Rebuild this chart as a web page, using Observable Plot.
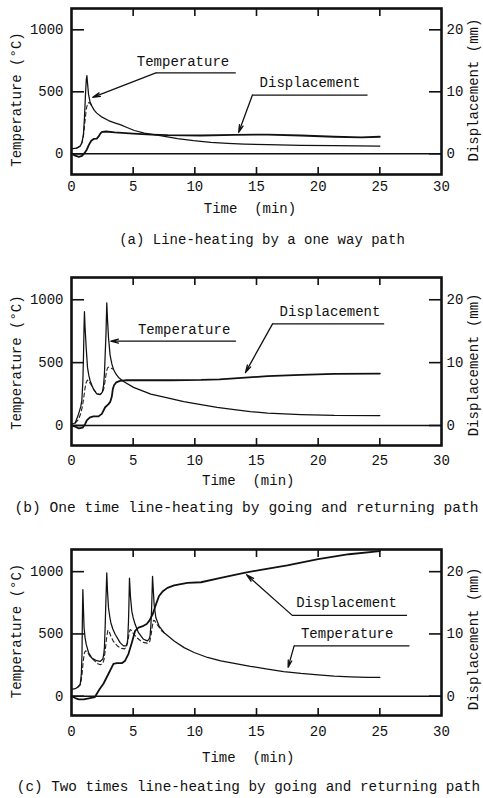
<!DOCTYPE html>
<html><head><meta charset="utf-8">
<script src="https://cdn.jsdelivr.net/npm/d3@7"></script>
<script src="https://cdn.jsdelivr.net/npm/@observablehq/plot@0.6"></script>
<style>
body{margin:0;background:#fff;}
#wrap{position:relative;width:483px;height:798px;overflow:hidden;font-family:'Liberation Mono',monospace;color:#111;}
.panel{position:absolute;left:0;}
.cap{position:absolute;white-space:pre;line-height:1;transform:translate(-50%,-50%);color:#111;}
</style></head><body><div id="wrap"></div>
<script>
// ---- shared axis values ----
const timeTicks = [0, 5, 10, 15, 20, 25, 30];
const innerTimeTicks = [5, 10, 15, 20, 25];
const tempTicks = [0, 500, 1000];
const dispTicks = [0, 10, 20];
const MM_TO_C = 50; // right axis: 20 mm aligns with 1000 °C

// ---- (a) one way path : [time (min), value] ----
const aTemp = [[0,40],[0.4,45],[0.7,62],[0.85,90],[0.97,160],[1.05,290],[1.13,470],[1.2,600],[1.25,630],[1.3,570],[1.38,480],[1.5,420],[1.65,385],[1.85,350],[2.05,328],[2.4,300],[3.0,268],[3.5,250],[4.0,233],[4.5,212],[5.1,188],[5.9,166],[7.2,146],[8.6,122],[9.9,106],[11.3,93],[12.65,85],[14,79],[15.9,73],[18.6,68],[21.3,65],[25,62]];
const aTempDashed = [[0.4,45],[0.75,65],[0.95,125],[1.08,250],[1.2,360],[1.3,405],[1.42,415],[1.55,400],[1.65,385]];
const aDisp = [[0,0],[0.3,-0.3],[0.6,-0.5],[0.85,-0.35],[1.05,0.1],[1.25,0.7],[1.4,1.4],[1.6,2.1],[1.8,2.4],[2.05,2.45],[2.2,2.8],[2.35,3.3],[2.5,3.55],[2.8,3.6],[3.5,3.45],[5,3.25],[6.5,3.1],[7.8,3.0],[10.5,2.95],[13.2,3.05],[15.9,3.1],[18.6,2.95],[21.3,2.75],[23.5,2.65],[25,2.75]];

// ---- (b) one time going and returning ----
const bTemp = [[0,10],[0.3,20],[0.57,90],[0.75,150],[0.84,200],[0.92,350],[0.97,540],[1.02,800],[1.05,905],[1.1,780],[1.19,620],[1.3,460],[1.4,400],[1.51,356],[1.65,320],[1.78,290],[2.05,252],[2.32,245],[2.5,265],[2.6,320],[2.67,410],[2.73,560],[2.8,740],[2.86,975],[2.92,840],[3.0,700],[3.13,560],[3.27,490],[3.4,448],[3.6,410],[3.81,382],[4.22,350],[5.03,303],[6.43,250],[7.78,219],[9.1,190],[10.5,166],[11.8,145],[13.2,126],[14.5,110],[15.9,98],[18.6,87],[21.3,80],[25,79]];
const bTempDashed = [[0.3,20],[0.55,45],[0.75,95],[0.9,160],[1.0,225],[1.1,300],[1.2,345],[1.3,362],[1.4,350],[1.55,330],[1.7,305],[1.85,280],[2.05,255],[2.3,247],[2.45,255],[2.6,285],[2.72,350],[2.82,420],[2.92,458],[3.02,465],[3.15,458],[3.3,452],[3.4,448]];
const bDisp = [[0,0],[0.3,-0.2],[0.6,-0.45],[0.9,-0.35],[1.1,0.2],[1.24,0.8],[1.5,1.3],[1.78,1.45],[2.19,1.45],[2.46,1.85],[2.73,2.9],[3.0,3.4],[3.15,3.8],[3.27,4.6],[3.35,5.8],[3.45,6.4],[3.62,6.85],[3.94,7.1],[4.48,7.2],[6,7.2],[8,7.2],[10.5,7.25],[12,7.35],[13.2,7.5],[15.9,7.85],[18.6,8.05],[21.3,8.2],[25,8.26]];

// ---- (c) two times going and returning ----
const cTemp = [[0,55],[0.3,60],[0.55,75],[0.7,90],[0.8,180],[0.85,330],[0.88,600],[0.92,856],[0.97,700],[1.02,550],[1.1,470],[1.19,418],[1.38,351],[1.65,306],[2.05,285],[2.32,279],[2.54,298],[2.62,340],[2.67,390],[2.73,560],[2.78,736],[2.86,990],[2.92,840],[3.0,709],[3.1,640],[3.19,590],[3.35,540],[3.54,497],[3.94,430],[4.21,404],[4.43,404],[4.52,430],[4.56,457],[4.62,600],[4.65,709],[4.7,948],[4.78,800],[4.89,683],[5.0,630],[5.16,577],[5.43,510],[5.84,457],[6.16,444],[6.3,460],[6.37,484],[6.43,560],[6.49,683],[6.57,962],[6.64,840],[6.7,736],[6.84,630],[7.1,563],[7.51,510],[8.32,444],[9.13,390],[9.94,351],[11.03,311],[12.1,283],[13.2,264],[14.5,240],[15.9,218],[17.2,198],[18.6,183],[20,172],[21.3,162],[22.6,156],[24,152],[25,151]];
const cTempDashed = [[0.5,72],[0.75,100],[0.85,170],[0.95,280],[1.05,350],[1.15,365],[1.3,350],[1.5,320],[1.8,290],[2.1,262],[2.35,252],[2.55,265],[2.65,300],[2.75,380],[2.85,470],[2.95,530],[3.05,520],[3.2,480],[3.4,440],[3.7,405],[4.0,385],[4.3,380],[4.45,395],[4.55,430],[4.65,490],[4.75,535],[4.85,530],[5.0,505],[5.3,470],[5.6,445],[5.9,430],[6.2,425],[6.35,440],[6.45,490],[6.55,560],[6.65,610],[6.75,605],[6.9,580],[7.1,555],[7.3,525],[7.5,508]];
const cDisp = [[0,0],[0.3,-0.3],[0.6,-0.5],[1.0,-0.5],[1.5,-0.3],[1.9,-0.15],[2.05,0.4],[2.3,1.2],[2.59,2.0],[3.0,3.6],[3.25,4.6],[3.4,5.2],[3.67,5.3],[4.08,5.3],[4.35,5.7],[4.62,6.8],[4.89,8.6],[5.16,10.5],[5.43,11.0],[5.84,11.3],[6.1,11.6],[6.3,12.1],[6.57,13.1],[6.84,14.7],[7.1,16.1],[7.38,16.8],[7.78,17.4],[8.32,17.8],[9.4,18.2],[10.5,18.3],[12.1,19.0],[14.0,19.8],[15.35,20.3],[17.5,21.0],[20,22.0],[22.5,22.8],[25,23.3]];

// ---- annotation labels and leaders (data coordinates: min, °C) ----
const aLabels = [{x:9.04,y:745,text:"Temperature"},{x:19.34,y:572,text:"Displacement"}];
const aLeaders = [{x1:6.84,y1:652,x2:13.32,y2:652},{x1:14.67,y1:474,x2:24.0,y2:474}];
const aArrows = [{x1:6.84,y1:652,x2:1.72,y2:455},{x1:14.67,y1:474,x2:13.55,y2:172}];
const bLabels = [{x:9.13,y:764,text:"Temperature"},{x:20.96,y:908,text:"Displacement"}];
const bLeaders = [{x1:16.3,y1:808,x2:25.35,y2:808}];
const bArrows = [{x1:13.3,y1:671,x2:3.19,y2:671},{x1:16.3,y1:808,x2:14.1,y2:421}];
const cLabels = [{x:22.3,y:749,text:"Displacement"},{x:22.35,y:502,text:"Temperature"}];
const cLeaders = [{x1:17.9,y1:649,x2:27.2,y2:649},{x1:18.05,y1:404,x2:27.4,y2:404}];
const cArrows = [{x1:17.9,y1:649,x2:14.2,y2:975},{x1:18.05,y1:404,x2:17.56,y2:231}];

const captions = [
  "(a) Line-heating by a one way path",
  "(b) One time line-heating by going and returning path",
  "(c) Two times line-heating by going and returning path"
];

const FONT = "'Liberation Mono', monospace";
const W = 483, ML = 71, MR = 42, MT = 8;

function panel(cfg) {
  const fw = W - ML - MR;
  const fh = cfg.frameH;
  const H = cfg.height;
  const xy = {x: d => d[0], y: d => d[1]};
  return Plot.plot({
    width: W, height: H,
    marginLeft: ML, marginRight: MR, marginTop: MT, marginBottom: H - MT - fh,
    x: {domain: [0, 30]},
    y: {domain: cfg.yDomain},
    style: {fontFamily: FONT, fontSize: "14px", background: "transparent", color: "#111", overflow: "visible"},
    marks: [
      Plot.ruleY([0], {stroke: "#111", strokeWidth: 1.5}),
      Plot.line(cfg.dashed, {...xy, stroke: "#222", strokeWidth: 1.1, strokeDasharray: "4,3"}),
      Plot.line(cfg.temp, {...xy, stroke: "#111", strokeWidth: 1.25}),
      Plot.line(cfg.disp, {x: d => d[0], y: d => d[1] * MM_TO_C, stroke: "#111", strokeWidth: 1.8}),
      Plot.tickY(tempTicks, {y: d => d, insetRight: fw - 13, stroke: "#111", strokeWidth: 1.6}),
      Plot.tickY(dispTicks, {y: d => d * MM_TO_C, insetLeft: fw - 12, stroke: "#111", strokeWidth: 1.6}),
      Plot.tickX(innerTimeTicks, {x: d => d, insetBottom: fh - 8, stroke: "#111", strokeWidth: 1.6}),
      Plot.tickX(innerTimeTicks, {x: d => d, insetTop: fh - 7, stroke: "#111", strokeWidth: 1.6}),
      Plot.frame({stroke: "#111", strokeWidth: 2.6}),
      Plot.axisX(timeTicks, {tickSize: 0, tickPadding: cfg.xPad, tickFormat: "d", label: null}),
      Plot.axisY(tempTicks, {anchor: "left", tickSize: 0, tickPadding: 8, tickFormat: "d", label: null}),
      Plot.text(dispTicks, {y: d => d * MM_TO_C, text: d => String(d), frameAnchor: "right", textAnchor: "start", dx: 5}),
      Plot.text(["Time\u00a0\u00a0(min)"], {x: cfg.timeX, frameAnchor: "bottom", dy: cfg.timeDy, text: d => d}),
      Plot.text(["Temperature (°C)"], {y: cfg.leftTitleY, frameAnchor: "left", textAnchor: "middle", rotate: -90, dx: -55, text: d => d}),
      Plot.text(["Displacement (mm)"], {y: cfg.rightTitleY, frameAnchor: "right", textAnchor: "middle", rotate: -90, dx: 32, text: d => d}),
      Plot.link(cfg.leaders, {x1: "x1", y1: "y1", x2: "x2", y2: "y2", stroke: "#111", strokeWidth: 1.3}),
      Plot.arrow(cfg.arrows, {x1: "x1", y1: "y1", x2: "x2", y2: "y2", stroke: "#111", strokeWidth: 1.3, headLength: 9, headAngle: 28}),
      Plot.text(cfg.labels, {x: "x", y: "y", text: "text"})
    ]
  });
}

const panels = [
  {top: 0, height: 230, frameH: 166, yDomain: [-167, 1172], xPad: 7, timeX: 14.47, timeDy: 38,
   leftTitleY: 438, rightTitleY: 514, temp: aTemp, dashed: aTempDashed, disp: aDisp,
   labels: aLabels, leaders: aLeaders, arrows: aArrows, capY: 240, capX: 262, capSize: 14},
  {top: 269, height: 232, frameH: 168, yDomain: [-159, 1177], xPad: 10, timeX: 14.33, timeDy: 39,
   leftTitleY: 500, rightTitleY: 482, temp: bTemp, dashed: bTempDashed, disp: bDisp,
   labels: bLabels, leaders: bLeaders, arrows: bArrows, capY: 508, capX: 246.5, capSize: 14.6},
  {top: 541, height: 232, frameH: 166, yDomain: [-155, 1178], xPad: 11, timeX: 14.33, timeDy: 46,
   leftTitleY: 524, rightTitleY: 460, temp: cTemp, dashed: cTempDashed, disp: cDisp,
   labels: cLabels, leaders: cLeaders, arrows: cArrows, capY: 786.7, capX: 248.5, capSize: 14.3}
];

const wrap = document.getElementById("wrap");
panels.forEach((cfg, i) => {
  const div = document.createElement("div");
  div.className = "panel";
  div.style.top = cfg.top + "px";
  div.appendChild(panel(cfg));
  wrap.appendChild(div);
});
panels.forEach((cfg, i) => {
  const cap = document.createElement("div");
  cap.className = "cap";
  cap.style.left = cfg.capX + "px";
  cap.style.top = cfg.capY + "px";
  cap.style.fontSize = cfg.capSize + "px";
  cap.textContent = captions[i];
  wrap.appendChild(cap);
});
</script></body></html>
